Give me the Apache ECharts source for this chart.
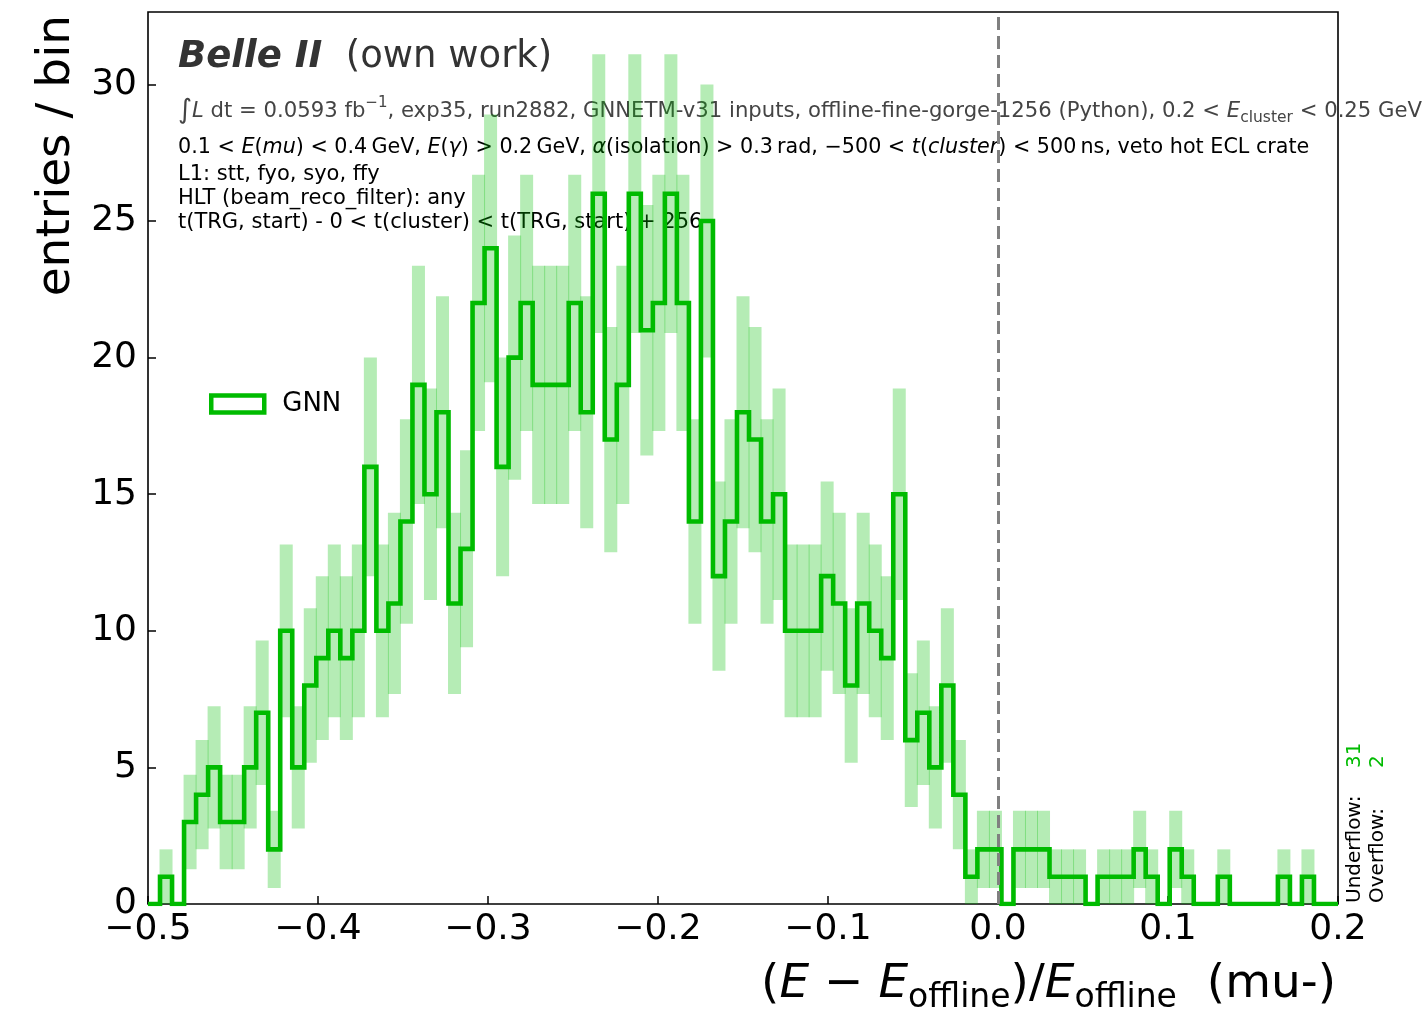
<!DOCTYPE html>
<html><head><meta charset="utf-8">
<script src="https://cdn.jsdelivr.net/npm/echarts@6/dist/echarts.min.js"></script>
<style>html,body{margin:0;padding:0;background:#fff}#c{width:1424px;height:1011px}</style>
</head><body><div id="c"></div>
<script>
// ---- data ----
const binLow = -0.5;
const binHigh = 0.2;
const nBins = 99;
const counts = [0,1,0,3,4,5,3,3,5,7, 2,10,5,8,9,10,9,10,16,10, 11,14,19,15,18,11,13,22,24,16,
  20,22,19,19,19,22,18,26,17,19, 26,21,22,26,22,14,25,12,14,18, 17,14,15,10,10,10,12,11,8,11,
  10,9,15,6,7,5,8,4,1,2, 2,0,2,2,2,1,1,1,0,1, 1,1,2,1,0,2,1,0,0,1, 0,0,0,0,1,0,1,0,0];
const yTicks = [0,5,10,15,20,25,30];
const underflow = 31;
const overflow = 2;
const seriesName = 'GNN';

// ---- build ----
const edges = [];
for (let i = 0; i <= nBins; i++) edges.push(binLow + (binHigh - binLow) * i / nBins);
const stepData = counts.map((c, i) => [edges[i], c]);
stepData.push([edges[nBins], counts[nBins - 1]]);
const errData = counts.map((c, i) => [edges[i], edges[i + 1], c]);

const GREEN = '#00bb00';
const FF = 'DejaVu Sans';

const chart = echarts.init(document.getElementById('c'), null, {renderer: 'canvas'});
const fmtX = v => Math.abs(v) < 1e-9 ? '0.0' : (v < 0 ? '\u2212' : '') + Math.abs(v).toFixed(1);

chart.setOption({
  animation: false,
  backgroundColor: '#fff',
  grid: {left: 148, right: 86, top: 12, bottom: 107, show: true, borderColor: '#000', borderWidth: 1.6, backgroundColor: 'transparent'},
  xAxis: {
    type: 'value', min: binLow, max: binHigh, interval: 0.1,
    axisLine: {show: false, onZero: false}, splitLine: {show: false},
    axisTick: {show: true, inside: true, length: 8, lineStyle: {color: '#000', width: 1.5}},
    axisLabel: {formatter: fmtX, fontFamily: FF, fontSize: 36, color: '#000', margin: 8}
  },
  yAxis: {
    type: 'value', min: 0, max: 32.65, interval: 5,
    axisLine: {show: false, onZero: false}, splitLine: {show: false},
    axisTick: {show: true, inside: true, length: 8, lineStyle: {color: '#000', width: 1.5}, customValues: yTicks},
    axisLabel: {customValues: yTicks, fontFamily: FF, fontSize: 36, color: '#000', margin: 11}
  },
  legend: {
    left: 204, top: 386, itemWidth: 53, itemHeight: 17,
    data: [{name: seriesName, icon: 'rect', itemStyle: {color: 'rgba(0,0,0,0)', borderColor: GREEN, borderWidth: 4.5}}],
    textStyle: {fontFamily: FF, fontSize: 26, color: '#000', padding: [0, 0, 0, 13]},
    selectedMode: false
  },
  series: [
    {
      type: 'custom', name: 'err', silent: true, clip: true, z: 2,
      data: errData,
      encode: {x: [0, 1], y: 2},
      renderItem: function (params, api) {
        const x0 = api.value(0), x1 = api.value(1), c = api.value(2);
        if (!(c > 0)) return null;
        const e = Math.sqrt(c);
        const p0 = api.coord([x0, c + e]);
        const p1 = api.coord([x1, Math.max(c - e, 0)]);
        return {type: 'rect', shape: {x: p0[0] - 0.5, y: p0[1], width: p1[0] - p0[0] + 1, height: p1[1] - p0[1]},
          style: {fill: 'rgba(0,190,0,0.29)'}};
      }
    },
    {
      type: 'line', name: seriesName, step: 'end', data: stepData, showSymbol: false, symbol: 'none',
      clip: true, z: 3,
      itemStyle: {color: GREEN},
      lineStyle: {color: GREEN, width: 4.6, join: 'miter', cap: 'butt'},
      markLine: {
        silent: true, symbol: 'none', label: {show: false},
        lineStyle: {type: [13, 6], color: '#808080', width: 3},
        data: [{xAxis: 0}]
      }
    }
  ],
  graphic: [
    {type: 'text', x: 178, y: 57, silent: true, style: {
      text: '{b|Belle II}{n|  (own work)}', verticalAlign: 'middle', align: 'left',
      rich: {b: {fontFamily: FF, fontSize: 37, fontWeight: 'bold', fontStyle: 'italic', fill: '#333'},
             n: {fontFamily: FF, fontSize: 37, fill: '#333'}}}},
    {type: 'text', x: 178, y: 111, silent: true, style: {
      text: '{big|\u222B}{it|L}{n| dt = 0.0593 fb}{sup|\u22121}{n|, exp35, run2882, GNNETM-v31 inputs, offline-fine-gorge-1256 (Python), 0.2 < }{it|E}{sub|cluster}{n| < 0.25 GeV}',
      verticalAlign: 'middle', align: 'left',
      rich: {
        n: {fontFamily: FF, fontSize: 21.2, fill: '#444', lineHeight: 30},
        it: {fontFamily: FF, fontSize: 21.2, fontStyle: 'italic', fill: '#444', lineHeight: 30},
        big: {fontFamily: FF, fontSize: 27, fill: '#444', lineHeight: 30},
        sup: {fontFamily: FF, fontSize: 15, fill: '#444', verticalAlign: 'top', lineHeight: 17},
        sub: {fontFamily: FF, fontSize: 15.5, fill: '#444', verticalAlign: 'bottom', lineHeight: 17}
      }}},
    {type: 'text', x: 178, y: 148, silent: true, style: {
      text: '{n|0.1 < }{it|E}{n|(}{it|mu}{n|) < 0.4\u2009GeV, }{it|E}{n|(}{it|\u03B3}{n|) > 0.2\u2009GeV, }{it|\u03B1}{n|(isolation) > 0.3\u2009rad, \u2212500 < }{it|t}{n|(}{it|cluster}{n|) < 500\u2009ns, veto hot ECL crate}',
      verticalAlign: 'middle', align: 'left',
      rich: {
        n: {fontFamily: FF, fontSize: 20.7, fill: '#000'},
        it: {fontFamily: FF, fontSize: 20.7, fontStyle: 'italic', fill: '#000'}
      }}},
    {type: 'text', x: 178, y: 175, silent: true, style: {text: 'L1: stt, fyo, syo, ffy', fontFamily: FF, fontSize: 21, fill: '#000', verticalAlign: 'middle'}},
    {type: 'text', x: 178, y: 199, silent: true, style: {text: 'HLT (beam_reco_filter): any', fontFamily: FF, fontSize: 21, fill: '#000', verticalAlign: 'middle'}},
    {type: 'text', x: 178, y: 223, silent: true, style: {text: 't(TRG, start) - 0 < t(cluster) < t(TRG, start) + 256', fontFamily: FF, fontSize: 21, fill: '#000', verticalAlign: 'middle'}},
    {type: 'text', x: 57, y: 15, rotation: Math.PI / 2, silent: true, style: {text: 'entries / bin', fontFamily: FF, fontSize: 47, fill: '#000', align: 'right', verticalAlign: 'middle'}},
    {type: 'text', x: 1336, y: 985, silent: true, style: {
      text: '{n|(}{it|E}{n| \u2212 }{it|E}{sub|offline}{n|)/}{it|E}{sub|offline}{n|  (mu-)}',
      align: 'right', verticalAlign: 'middle',
      rich: {
        n: {fontFamily: FF, fontSize: 47, fill: '#000', lineHeight: 60},
        it: {fontFamily: FF, fontSize: 47, fontStyle: 'italic', fill: '#000', lineHeight: 60},
        sub: {fontFamily: FF, fontSize: 33, fill: '#000', verticalAlign: 'bottom', lineHeight: 34}
      }}},
    {type: 'text', x: 1355, y: 903, rotation: Math.PI / 2, silent: true, style: {text: 'Underflow:', fontFamily: FF, fontSize: 20, fill: '#000', align: 'left', verticalAlign: 'middle'}},
    {type: 'text', x: 1355, y: 768, rotation: Math.PI / 2, silent: true, style: {text: String(underflow), fontFamily: FF, fontSize: 20, fill: GREEN, align: 'left', verticalAlign: 'middle'}},
    {type: 'text', x: 1378, y: 903, rotation: Math.PI / 2, silent: true, style: {text: 'Overflow:', fontFamily: FF, fontSize: 20, fill: '#000', align: 'left', verticalAlign: 'middle'}},
    {type: 'text', x: 1378, y: 768, rotation: Math.PI / 2, silent: true, style: {text: String(overflow), fontFamily: FF, fontSize: 20, fill: GREEN, align: 'left', verticalAlign: 'middle'}}
  ]
});
</script>
</body></html>
